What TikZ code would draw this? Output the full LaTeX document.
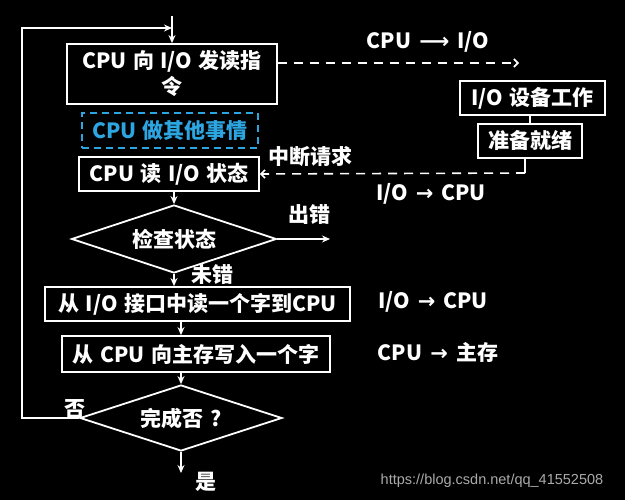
\documentclass[tikz,border=0pt]{standalone}
\usepackage{fontspec}
\usepackage{xcolor}
\usepackage{tikz}
\usetikzlibrary{positioning,arrows.meta,shapes.geometric}
\setmainfont{Noto Sans CJK SC}
\newfontfamily\flecha{DejaVu Sans}
\newfontfamily\marca{Liberation Sans}
\newcommand{\letra}{\bfseries\fontsize{21}{26}\selectfont\spaceskip=6.5pt plus 2pt}
\newcommand{\hueco}{\hspace{8pt}}
\definecolor{azulcpu}{RGB}{45,165,225}
\definecolor{grismarca}{RGB}{170,170,170}

\begin{document}
\begin{tikzpicture}[x=1pt,y=-1pt,
                    caja/.style={draw=white,line width=1.8pt,text=white,font=\letra,inner sep=0pt,align=center},
                    rombo/.style={diamond,shape aspect=3,draw=white,line width=1.8pt,text=white,font=\letra,inner sep=0pt},
                    etiq/.style={text=white,font=\letra,inner sep=0pt},
                    flujo/.style={draw=white,line width=1.4pt,-{Stealth[length=8pt,width=7pt]}},
                    aviso/.style={draw=white,line width=1.6pt,dash pattern=on 9pt off 7pt,-{Straight Barb[length=4pt,width=8pt]}}]
  \useasboundingbox (0,0) rectangle (625,500);
  \fill[black] (0,0) rectangle (625,500);
  % columna principal
  \node[caja,minimum width=210,minimum height=60] (lee) at (172,74) {CPU 向 I/O 发读指\\令};
  \node[caja,draw=azulcpu,text=azulcpu,dash pattern=on 7pt off 5pt,minimum width=176,minimum height=35] (otro) at (170,130.5) {CPU 做其他事情};
  \node[caja,minimum width=180,minimum height=34] (estado) at (169,174) {CPU 读 I/O 状态};
  \node[rombo,minimum width=205,minimum height=68] (chequeo) at (174,239) {检查状态};
  \node[caja,minimum width=305,minimum height=34] (leer) at (197.5,304) {从 I/O 接口中读一个字到CPU};
  \node[caja,minimum width=268,minimum height=36] (escribe) at (196,354) {从 CPU 向主存写入一个字};
  \node[rombo,minimum width=202,minimum height=66] (fin) at (181,418) {完成否 ?};
  % lado del dispositivo
  \node[caja,minimum width=145,minimum height=34] (dispo) at (532.5,98) {I/O 设备工作};
  \node[caja,minimum width=104,minimum height=34] (listo) at (530,141) {准备就绪};
  \coordinate (inicio) at (172,16);
  \coordinate (giro) at (22,28);
  \coordinate (hacia) at (519,63);
  \coordinate (esquina) at (525,173);
  \coordinate (error) at (330,239);
  \coordinate (salida) at (181,473);

  \draw[flujo] (inicio) -- (lee.north);
  \draw[flujo] (fin.west) -| (giro) -- (giro -| inicio);
  \draw[flujo] (chequeo.north |- estado.south) -- (chequeo.north);
  \draw[flujo] (chequeo.east) -- (error);
  \draw[flujo] (chequeo.south) -- (chequeo.south |- leer.north);
  \draw[flujo] (fin.north |- leer.south) -- (fin.north |- escribe.north);
  \draw[flujo] (fin.north |- escribe.south) -- (fin.north);
  \draw[flujo] (fin.south) -- (salida);

  \draw[aviso] ([yshift=11]lee.east) -- (hacia);
  \draw[white,line width=1.6pt] (listo.north) -- (listo.north |- dispo.south);
  \draw[white,line width=1.6pt] (listo.south -| esquina) -- (esquina);
  \draw[aviso] (esquina) -- (estado.east);

  \node[etiq] (cpuio) at (428,42) {CPU\hueco{\flecha ⟶}\hueco I/O};
  \node[etiq] (irq) at (310,157) {中断请求};
  \node[etiq] (iocpu) at (431,194) {I/O\hueco{\flecha →}\hueco CPU};
  \node[etiq] (mal) at (309,215) {出错};
  \node[etiq] (bien) at (212,275) {未错};
  \node[etiq] (iocpu2) at (433,302) {I/O\hueco{\flecha →}\hueco CPU};
  \node[etiq] (cpumem) at (438,352) {CPU\hueco{\flecha →}\hueco 主存};
  \node[etiq] (no) at (75,409) {否};
  \node[etiq] (si) at (206,482) {是};
  \node[text=grismarca,font=\marca\fontsize{14.5}{16}\selectfont,inner sep=0pt] (url) at (492,481) {https://blog.csdn.net/qq\_41552508};
\end{tikzpicture}
\end{document}
